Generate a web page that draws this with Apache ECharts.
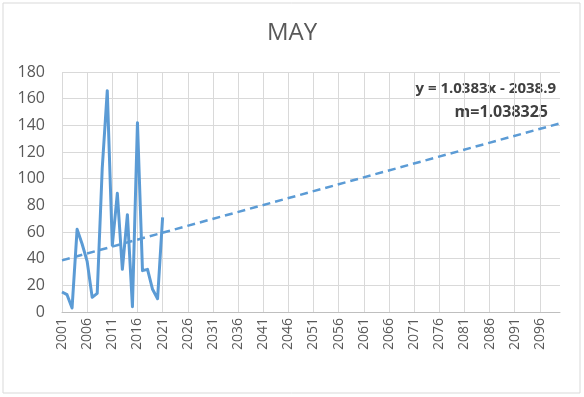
<!DOCTYPE html>
<html>
<head>
<meta charset="utf-8">
<script src="https://cdn.jsdelivr.net/npm/echarts@6/dist/echarts.min.js"></script>
<style>
  html, body { margin: 0; padding: 0; background: #fff; }
  #chart { width: 584px; height: 397px; }
</style>
</head>
<body>
<div id="chart"></div>
<script>
// years on the category axis
var years = [];
for (var y = 2001; y <= 2100; y++) {
    years.push(String(y));
}

// observed values, 2001 - 2021
var obsYears = ['2001', '2002', '2003', '2004', '2005', '2006', '2007', '2008', '2009', '2010', '2011',
    '2012', '2013', '2014', '2015', '2016', '2017', '2018', '2019', '2020', '2021'];
var obsValues = [15, 13, 3, 62, 51, 38, 11, 14, 108, 166, 50, 89, 32, 73, 4, 142, 31, 32, 17, 10, 71];

// trend line ends
var trendYears = ['2001', '2100'];
var trendValues = [38.7, 141.5];

var yTicks = { min: 0, max: 180, step: 20 };

var myChart = echarts.init(document.getElementById('chart'));
var option = {
    backgroundColor: '#fff',
    animation: false,
    textStyle: { fontFamily: 'Open Sans' },
    title: {
        text: 'MAY',
        left: 'center',
        top: 16,
        textStyle: { fontSize: 24, fontWeight: 'normal', color: '#595959', fontFamily: 'Open Sans' }
    },
    graphic: [
        {
            type: 'rect',
            shape: { x: 3, y: 3, width: 577, height: 390 },
            style: { fill: 'none', stroke: '#d9d9d9', lineWidth: 1 },
            silent: true
        },
        {
            type: 'text',
            x: 556,
            y: 89,
            style: {
                text: 'y = 1.0383x - 2038.9', fill: '#404040', font: 'bold 15px "Open Sans"',
                align: 'right', verticalAlign: 'middle'
            }
        },
        {
            type: 'text',
            x: 548,
            y: 112,
            style: {
                text: 'm=1.038325', fill: '#404040', font: 'bold 16px "Open Sans"',
                align: 'right', verticalAlign: 'middle'
            }
        }
    ],
    grid: { left: 62, right: 24, top: 72, bottom: 85 },
    xAxis: {
        type: 'category',
        boundaryGap: false,
        data: years,
        axisLine: { lineStyle: { color: '#bfbfbf' } },
        axisTick: { show: false },
        axisLabel: { interval: 4, rotate: 90, color: '#595959', fontSize: 14, margin: 6 },
        splitLine: { show: true, interval: 4, lineStyle: { color: '#d9d9d9' } }
    },
    yAxis: {
        type: 'value',
        min: yTicks.min,
        max: yTicks.max,
        interval: yTicks.step,
        axisLine: { show: false },
        axisTick: { show: false },
        axisLabel: { color: '#595959', fontSize: 16, margin: 17 },
        splitLine: { lineStyle: { color: '#d9d9d9' } }
    },
    series: [
        {
            name: 'MAY',
            type: 'line',
            showSymbol: false,
            data: obsYears.map(function (yr, i) { return [yr, obsValues[i]]; }),
            lineStyle: { color: '#5b9bd5', width: 3, join: 'round' },
            itemStyle: { color: '#5b9bd5' }
        },
        {
            name: 'Trend',
            type: 'line',
            showSymbol: false,
            data: trendYears.map(function (yr, i) { return [yr, trendValues[i]]; }),
            lineStyle: { color: '#5b9bd5', width: 2.5, type: [8, 5] },
            itemStyle: { color: '#5b9bd5' }
        }
    ]
};
myChart.setOption(option);
</script>
</body>
</html>
